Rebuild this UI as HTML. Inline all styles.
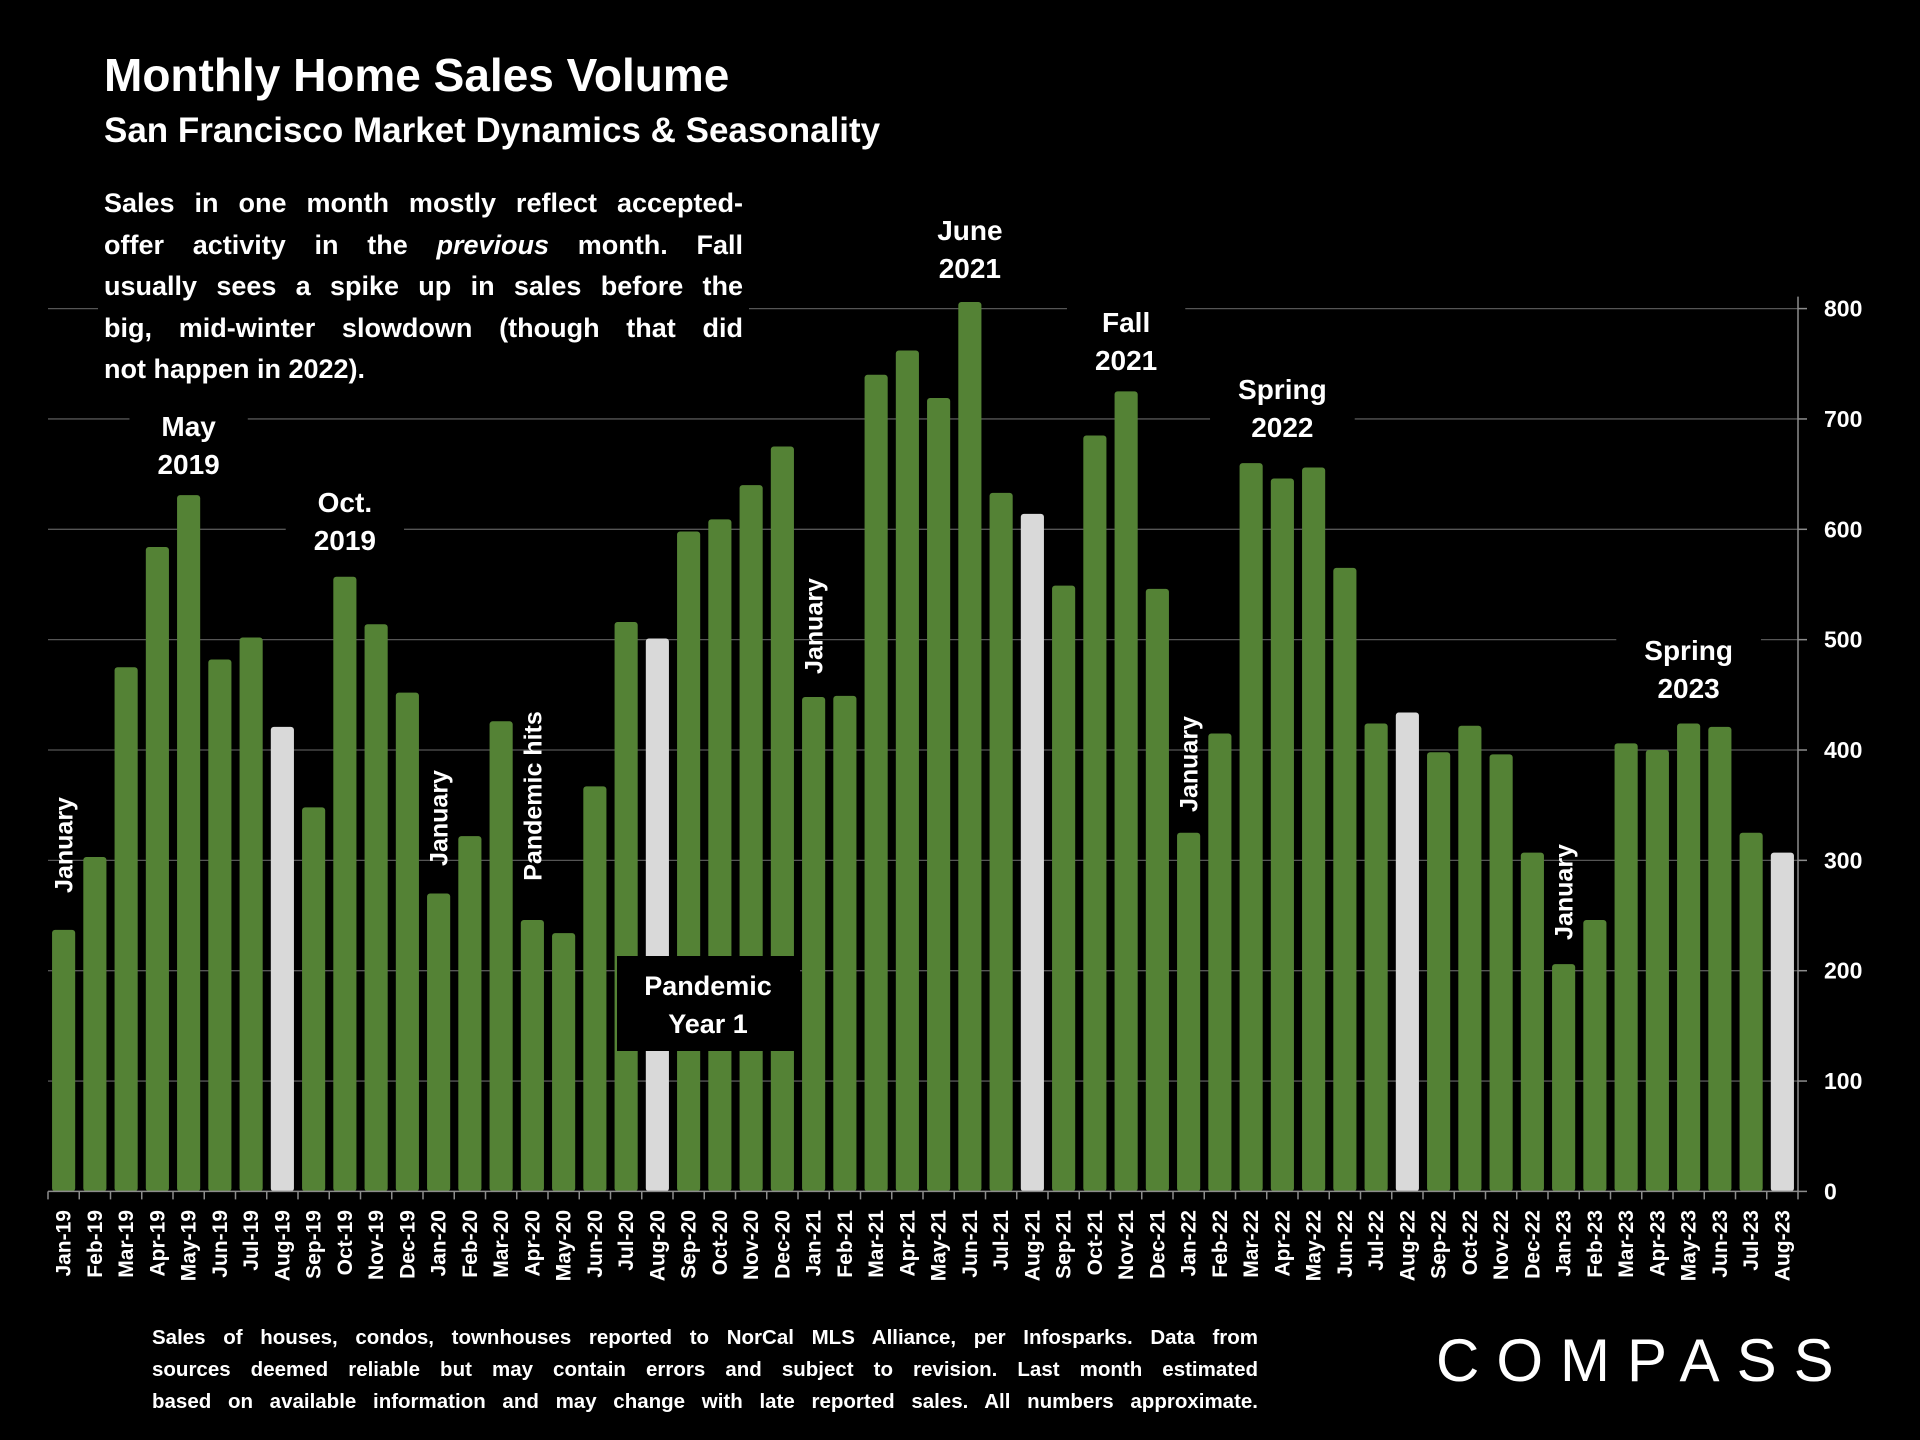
<!DOCTYPE html>
<html><head><meta charset="utf-8">
<style>
html,body{margin:0;padding:0;background:#000;}
body{width:1920px;height:1440px;position:relative;overflow:hidden;font-family:"Liberation Sans",Arial,sans-serif;color:#fff;}
.t{position:absolute;font-weight:bold;white-space:nowrap;}
#title{left:104px;top:48px;font-size:46px;}
#subtitle{left:104px;top:111px;font-size:35px;}
#para{left:98px;top:183px;width:639px;padding:0 6px;font-size:27px;line-height:41.6px;background:#000;z-index:2;}
#para div,#foot div{text-align:justify;text-align-last:justify;white-space:normal;}
#para div.last{text-align-last:left;}
#foot{left:152px;top:1322px;width:1106px;font-size:20.5px;line-height:31.8px;}
#logo{left:1436px;top:1326px;font-size:60px;font-weight:normal;letter-spacing:17px;}
svg{position:absolute;left:0;top:0;}
</style></head>
<body>
<svg id="chart" width="1920" height="1440"></svg>
<div class="t" id="title">Monthly Home Sales Volume</div>
<div class="t" id="subtitle">San Francisco Market Dynamics &amp; Seasonality</div>
<div class="t" id="para">
<div>Sales in one month mostly reflect accepted-</div>
<div>offer activity in the <i>previous</i> month. Fall</div>
<div>usually sees a spike up in sales before the</div>
<div>big, mid-winter slowdown (though that did</div>
<div class="last">not happen in 2022).</div>
</div>
<div class="t" id="foot">
<div>Sales of houses, condos, townhouses reported to NorCal MLS Alliance, per Infosparks. Data from</div>
<div>sources deemed reliable but may contain errors and subject to revision. Last month estimated</div>
<div>based on available information and may change with late reported sales. All numbers approximate.</div>
</div>
<div class="t" id="logo">COMPASS</div>
<script>
const categories = ["Jan-19","Feb-19","Mar-19","Apr-19","May-19","Jun-19","Jul-19","Aug-19","Sep-19","Oct-19","Nov-19","Dec-19","Jan-20","Feb-20","Mar-20","Apr-20","May-20","Jun-20","Jul-20","Aug-20","Sep-20","Oct-20","Nov-20","Dec-20","Jan-21","Feb-21","Mar-21","Apr-21","May-21","Jun-21","Jul-21","Aug-21","Sep-21","Oct-21","Nov-21","Dec-21","Jan-22","Feb-22","Mar-22","Apr-22","May-22","Jun-22","Jul-22","Aug-22","Sep-22","Oct-22","Nov-22","Dec-22","Jan-23","Feb-23","Mar-23","Apr-23","May-23","Jun-23","Jul-23","Aug-23"];
const sales = [237,303,475,584,631,482,502,421,348,557,514,452,270,322,426,246,234,367,516,501,598,609,640,675,448,449,740,762,719,806,633,614,549,685,725,546,325,415,660,646,656,565,424,434,398,422,396,307,206,246,406,400,424,421,325,307];
const highlighted = ["Aug-19","Aug-20","Aug-21","Aug-22","Aug-23"];
const yTicks = [0,100,200,300,400,500,600,700,800];
const annotations = [
 {at:"May-19", lines:["May","2019"]},
 {at:"Oct-19", lines:["Oct.","2019"]},
 {at:"Jun-21", lines:["June","2021"]},
 {at:"Nov-21", lines:["Fall","2021"]},
 {at:"Apr-22", lines:["Spring","2022"]},
 {at:"May-23", lines:["Spring","2023"]}
];
const annotationTop = [436, 512, 240, 332, 399, 660];
const rotated = [{at:"Jan-19",text:"January",c:845},{at:"Jan-20",text:"January",c:818},{at:"Apr-20",text:"Pandemic hits",c:796},{at:"Jan-21",text:"January",c:626},{at:"Jan-22",text:"January",c:764},{at:"Jan-23",text:"January",c:892}];

const NS="http://www.w3.org/2000/svg";
const svg=document.getElementById('chart');
const L=48, R=1798, Y0=1191.4, Y800=308.6;
const step=(R-L)/categories.length;
const x=i=>L+(i+0.5)*step;
const y=v=>Y0-(v/800)*(Y0-Y800);
function mk(tag,attrs,parent){const e=document.createElementNS(NS,tag);for(const k in attrs)e.setAttribute(k,attrs[k]);(parent||svg).appendChild(e);return e;}

const grid=mk('g',{});


yTicks.forEach(v=>{
  if(v===0) return;
  const l=mk('line',{x1:L,x2:R,y1:y(v),y2:y(v),stroke:'#555',"stroke-width":1.3},grid);
  
  
});
const bars=mk('g',{});


const ann=mk('g',{});


const bw=step*0.74;
categories.forEach((c,i)=>{
  const v=sales[i];
  const r=mk('rect',{x:x(i)-bw/2,y:y(v),width:bw,height:Y0-y(v),rx:3,fill:highlighted.includes(c)?'#d9d9d9':'#548235'},bars);
  
  
});
const ax=mk('g',{stroke:'#8c8c8c',"stroke-width":1.5});


mk('line',{x1:L,x2:R,y1:Y0,y2:Y0},ax);
mk('line',{x1:R,x2:R,y1:Y800-12,y2:Y0},ax);
for(let i=0;i<=categories.length;i++) mk('line',{x1:L+i*step,x2:L+i*step,y1:Y0,y2:Y0+8},ax);
yTicks.forEach(v=>mk('line',{x1:R,x2:R+9,y1:y(v),y2:y(v)},ax));
yTicks.forEach(v=>{
  const t=mk('text',{x:1824,y:y(v)+8,fill:'#fff',"font-size":23,"font-weight":"bold","font-family":"Liberation Sans, sans-serif"});
  t.textContent=v;
  
  
});
categories.forEach((c,i)=>{
  const t=mk('text',{x:0,y:0,fill:'#fff',"font-size":21,"font-weight":"bold","font-family":"Liberation Sans, sans-serif","text-anchor":"end",transform:`translate(${x(i)+7},1210) rotate(-90)`});
  t.textContent=c;
  
  
});
annotations.forEach((a,k)=>{
  const i=categories.indexOf(a.at);
  const cx=x(i), top=annotationTop[k];
  const bg=mk('rect',{fill:'#000'},ann);
  
  
  const t=mk('text',{x:cx,y:top,fill:'#fff',"font-size":28,"font-weight":"bold","font-family":"Liberation Sans, sans-serif","text-anchor":"middle"},ann);
  
  
  a.lines.forEach((ln,j)=>{const s=mk('tspan',{x:cx,dy:j?38:0},t);s.textContent=ln;});
  const b=t.getBBox();
  bg.setAttribute('x',b.x-28);bg.setAttribute('y',b.y-4);bg.setAttribute('width',b.width+56);bg.setAttribute('height',b.height+8);
});
rotated.forEach(a=>{
  const i=categories.indexOf(a.at);
  const t=mk('text',{x:0,y:0,fill:'#fff',"font-size":25,"font-weight":"bold","font-family":"Liberation Sans, sans-serif","text-anchor":"middle",transform:`translate(${x(i)+9},${a.c}) rotate(-90)`},ann);
  t.textContent=a.text;
  
  
});
const pb=mk('rect',{x:617,y:956,width:183,height:95,fill:'#000'},ann);


const pt=mk('text',{x:708,y:995,fill:'#fff',"font-size":27,"font-weight":"bold","font-family":"Liberation Sans, sans-serif","text-anchor":"middle"},ann);


["Pandemic","Year 1"].forEach((ln,j)=>{const s=mk('tspan',{x:708,dy:j?38:0},pt);s.textContent=ln;});
</script>
</body></html>
